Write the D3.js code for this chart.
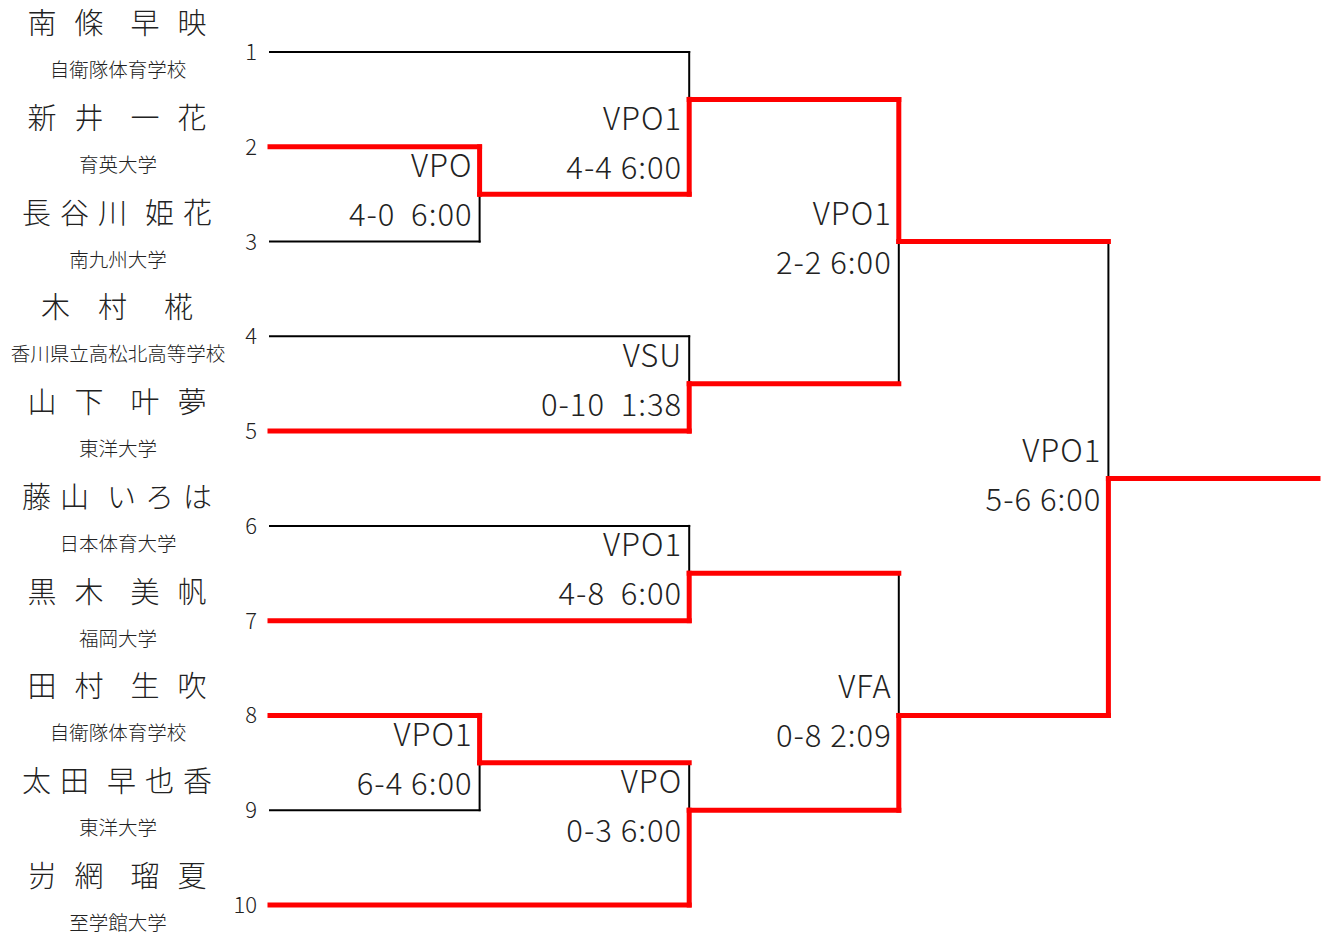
<!DOCTYPE html>
<html>
<head>
<meta charset="utf-8">
<script src="https://cdn.jsdelivr.net/npm/d3@7"></script>
<style>
  body { margin: 0; background: #fff; }
  svg { display: block; font-family: "Noto Sans CJK JP", "Noto Sans", sans-serif; font-weight: 300; }
</style>
</head>
<body>
<svg id="bracket" width="1327" height="935"></svg>
<script>
// players, top to bottom
var seeds = ["1", "2", "3", "4", "5", "6", "7", "8", "9", "10"];
var familyNames = ["南條", "新井", "長谷川", "木村", "山下", "藤山", "黒木", "田村", "太田", "岃網"];
var givenNames = ["早映", "一花", "姫花", "椛", "叶夢", "いろは", "美帆", "生吹", "早也香", "瑠夏"];
var schools = ["自衛隊体育学校", "育英大学", "南九州大学", "香川県立高松北高等学校", "東洋大学",
  "日本体育大学", "福岡大学", "自衛隊体育学校", "東洋大学", "至学館大学"];

// matches: children are player indexes (numbers) or match ids (strings)
// slot = where the joint sits, winner = index of the child that advanced
var matchIds = ["A", "B", "C", "D", "E", "F", "G", "H", "I"];
var matchRounds = [1, 2, 2, 2, 1, 2, 3, 3, 4];
var matchChildren = [[1, 2], [0, "A"], [3, 4], [5, 6], [7, 8], ["E", 9], ["B", "C"], ["D", "F"], ["G", "H"]];
var matchWinners = [0, 1, 1, 1, 0, 1, 0, 1, 1];
var matchSlots = [1.5, 0.5, 3.5, 5.5, 7.5, 8, 2, 7, 4.5];
var labelSlots = [1.5, 1, 3.5, 5.5, 7.5, 8, 2, 7, 4.5];
var resultCodes = ["VPO", "VPO1", "VSU", "VPO1", "VPO1", "VPO", "VPO1", "VFA", "VPO1"];
var resultScores = ["4-0  6:00", "4-4 6:00", "0-10  1:38", "4-8  6:00", "6-4 6:00", "0-3 6:00",
  "2-2 6:00", "0-8 2:09", "5-6 6:00"];

var svg = d3.select("#bracket");

var y = d3.scaleLinear().domain([0, 9]).range([52, 905]);
var x = d3.scaleLinear().domain([0, 5]).range([270, 1318]);

var matches = {};
matchIds.forEach(function (id, i) {
  matches[id] = {
    id: id, round: matchRounds[i], children: matchChildren[i], winner: matchWinners[i],
    slot: matchSlots[i], labelSlot: labelSlots[i], code: resultCodes[i], score: resultScores[i]
  };
});

//per child: a horizontal run into the match and a vertical drop to the joint
//the run is red when someone advanced along it, the drop when they won this match
var segments = [];
matchIds.forEach(function (id) {
  var m = matches[id];
  m.children.forEach(function (c, k) {
    var isPlayer = typeof c === "number";
    var startRound = isPlayer ? 0 : matches[c].round;
    var slot = isPlayer ? c : matches[c].slot;
    var won = k === m.winner;
    segments.push({ d: "M" + x(startRound) + "," + y(slot) + "H" + x(m.round), red: !isPlayer || won });
    segments.push({ d: "M" + x(m.round) + "," + y(slot) + "V" + y(m.slot), red: won });
  });
});
// champion
var fin = matches["I"];
segments.push({ d: "M" + x(fin.round) + "," + y(fin.slot) + "H" + x(5), red: true });

var lines = svg.append("g").attr("fill", "none");

lines.selectAll("path.lost")
  .data(segments.filter(function (d) { return !d.red; }))
  .enter()
  .append("path")
  .attr("class", "lost")
  .attr("stroke", "#000")
  .attr("stroke-width", 2)
  .attr("stroke-linecap", "square")
  .attr("d", function (d) { return d.d; });

lines.selectAll("path.won")
  .data(segments.filter(function (d) { return d.red; }))
  .enter()
  .append("path")
  .attr("class", "won")
  .attr("stroke", "#ff0000")
  .attr("stroke-width", 5)
  .attr("stroke-linecap", "square")
  .attr("d", function (d) { return d.d; });

// match results, right aligned left of the joint
var labels = svg.append("g")
  .selectAll("g")
  .data(matchIds.map(function (id) { return matches[id]; }))
  .enter()
  .append("g")
  .attr("transform", function (d) {
    return "translate(" + (x(d.round) - 7) + "," + y(d.labelSlot) + ")";
  });

labels.append("text")
  .attr("text-anchor", "end")
  .attr("y", -17)
  .style("font-size", "31px")
  .style("letter-spacing", "1px")
  .attr("fill", "#222")
  .text(function (d) { return d.code; });

labels.append("text")
  .attr("text-anchor", "end")
  .attr("y", 32)
  .style("font-size", "31px")
  .style("letter-spacing", "1px")
  .style("white-space", "pre")
  .attr("fill", "#222")
  .text(function (d) { return d.score; });

// players on the left
var players = svg.append("g")
  .selectAll("g")
  .data(seeds)
  .enter()
  .append("g")
  .attr("transform", function (d, i) { return "translate(0," + y(i) + ")"; });

players.append("text")
  .attr("x", 257)
  .attr("y", 8)
  .attr("text-anchor", "end")
  .style("font-size", "22px")
  .attr("fill", "#222")
  .text(function (d) { return d; });

players.append("text")
  .attr("x", 118)
  .attr("y", 25)
  .attr("text-anchor", "middle")
  .style("font-size", "19.5px")
  .attr("fill", "#222")
  .text(function (d, i) { return schools[i]; });

//spread the name characters, step depends on the name length
var stepByLength = { 3: 57, 4: 47, 5: 38 };
var nameGap = 9;
var charSize = 29;

players.each(function (d, i) {
  var chars = (familyNames[i] + givenNames[i]).split("");
  var step = stepByLength[chars.length];
  var total = step * (chars.length - 1) + nameGap + charSize;
  var left = 117 - total / 2;
  var text = d3.select(this).append("text")
    .attr("y", -18)
    .style("font-size", charSize + "px")
    .attr("fill", "#222");
  chars.forEach(function (ch, k) {
    var extra = k >= familyNames[i].length ? nameGap : 0;
    text.append("tspan")
      .attr("x", left + k * step + extra)
      .text(ch);
  });
});
</script>
</body>
</html>
